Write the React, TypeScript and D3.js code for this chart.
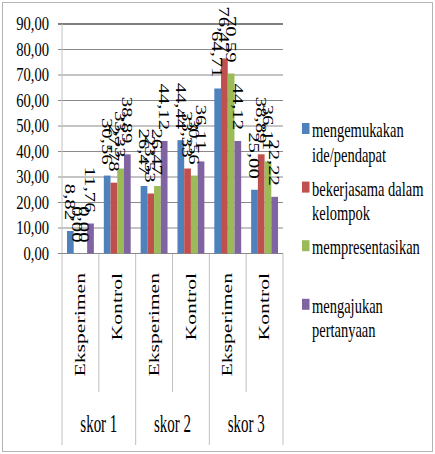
import * as d3 from 'd3';

const groups = ['skor 1', 'skor 2', 'skor 3'];
const subgroups = ['Eksperimen', 'Kontrol'];
const legendLines = [
  ['mengemukakan', 'ide/pendapat'],
  ['bekerjasama dalam', 'kelompok'],
  ['mempresentasikan'],
  ['mengajukan', 'pertanyaan'],
];
// one value per category: skor1 Eksp, skor1 Kontrol, skor2 Eksp, skor2 Kontrol, skor3 Eksp, skor3 Kontrol
const ideValues = [8.82, 30.56, 26.47, 44.44, 64.71, 25.0];
const kerjasamaValues = [0, 27.78, 23.53, 33.33, 76.47, 38.89];
const presentasiValues = [0, 33.33, 26.47, 30.56, 70.59, 36.11];
const tanyaValues = [11.76, 38.89, 44.12, 36.11, 44.12, 22.22];
const yTicks = [0, 10, 20, 30, 40, 50, 60, 70, 80, 90];

const COLORS = ['#4F81BD', '#C0504D', '#9BBB59', '#8064A2'];
const FONT = "'Liberation Serif', 'Times New Roman', 'Tinos', serif";
const W = 435;
const H = 454;
const PLOT = { left: 62, right: 283, top: 24, bottom: 253.5 };

const fmt = (v: number) => d3.format('.2f')(v).replace('.', ',');

export default function App() {
  const allSeries = [ideValues, kerjasamaValues, presentasiValues, tanyaValues];
  const cats = groups.flatMap(g => subgroups.map(s => ({ key: `${g}|${s}`, group: g, sub: s })));

  const x0 = d3.scaleBand<string>().domain(cats.map(c => c.key)).range([PLOT.left, PLOT.right]);
  const x1 = d3.scaleBand<number>().domain([0, 1, 2, 3]).range([0, x0.bandwidth()]).paddingOuter(0.74);
  const y = d3.scaleLinear([0, 90], [PLOT.bottom, PLOT.top]);

  const bounds = cats.map((c, i) => ({ x: x0(c.key)!, groupEdge: i % 2 === 0 }));
  bounds.push({ x: PLOT.right, groupEdge: true });

  const stretch = 1.38;

  return (
    <div style={{ position: 'absolute', left: 0, top: 0 }}>
      <svg width={W} height={H} style={{ display: 'block', fontFamily: FONT }}>
        <rect x={2.5} y={2.5} width={W - 5} height={H - 5} fill="white" stroke="#b4b4b4" />

        {/* gridlines */}
        {yTicks.map(v => (
          <line
            key={v}
            x1={PLOT.left - 4} x2={PLOT.right}
            y1={y(v)} y2={y(v)}
            stroke={v === 90 ? '#7f7f7f' : '#8a8a8a'}
            strokeWidth={v === 90 ? 2 : 1}
          />
        ))}

        {/* y tick labels */}
        {yTicks.map(v => (
          <text
            key={v}
            transform={`translate(49,${y(v)}) scale(1,1.24)`}
            dy="0.34em"
            textAnchor="end"
            fontSize={14.6}
          >
            {fmt(v)}
          </text>
        ))}

        {/* category separators */}
        {bounds.map((b, i) => (
          <line
            key={i}
            x1={b.x} x2={b.x}
            y1={i === 0 ? PLOT.top : PLOT.bottom}
            y2={b.groupEdge ? 445 : 392}
            stroke="#c0c0c0"
          />
        ))}
        <line x1={PLOT.left - 4} x2={PLOT.right} y1={PLOT.bottom} y2={PLOT.bottom} stroke="#8a8a8a" />

        {/* bars */}
        {allSeries.map((vals, si) => (
          <g key={si}>
            {vals.map((v, i) => (
              <rect
                key={i}
                x={x0(cats[i].key)! + x1(si)!}
                width={x1.bandwidth()}
                y={y(v)}
                height={y(0) - y(v)}
                fill={COLORS[si]}
              />
            ))}
          </g>
        ))}

        {/* data labels, rotated to read downward */}
        {allSeries.map((vals, si) =>
          vals.map((v, i) => {
            const cx = x0(cats[i].key)! + x1(si)! + x1.bandwidth() / 2;
            const end = Math.max(y(v) - 11, 53);
            return (
              <text
                key={`${si}-${i}`}
                transform={`translate(${cx},${end}) rotate(90) scale(${stretch},1)`}
                textAnchor="end"
                dy="0.35em"
                fontSize={15}
              >
                {fmt(v)}
              </text>
            );
          }),
        )}

        {/* category labels */}
        {cats.map(c => (
          <text
            key={c.key}
            transform={`translate(${x0(c.key)! + x0.bandwidth() / 2},273) rotate(-90) scale(1.4,1)`}
            textAnchor="end"
            dy="0.3em"
            fontSize={15.5}
          >
            {c.sub}
          </text>
        ))}

        {/* group labels */}
        {groups.map(g => {
          const gx = (x0(`${g}|${subgroups[0]}`)! + x0(`${g}|${subgroups[1]}`)! + x0.bandwidth()) / 2;
          return (
            <text key={g} transform={`translate(${gx},431.5) scale(1,1.75)`} textAnchor="middle" fontSize={15}>
              {g}
            </text>
          );
        })}

        {/* legend */}
        {legendLines.map((lines, si) => {
          const base = 137 + si * 58.6;
          return (
            <g key={si}>
              <rect x={302} y={base - 14} width={7.5} height={11} fill={COLORS[si]} />
              {lines.map((ln, li) => (
                <text key={li} transform={`translate(312,${base + li * 24.5}) scale(1,1.4)`} fontSize={14.5}>
                  {ln}
                </text>
              ))}
            </g>
          );
        })}
      </svg>
    </div>
  );
}
